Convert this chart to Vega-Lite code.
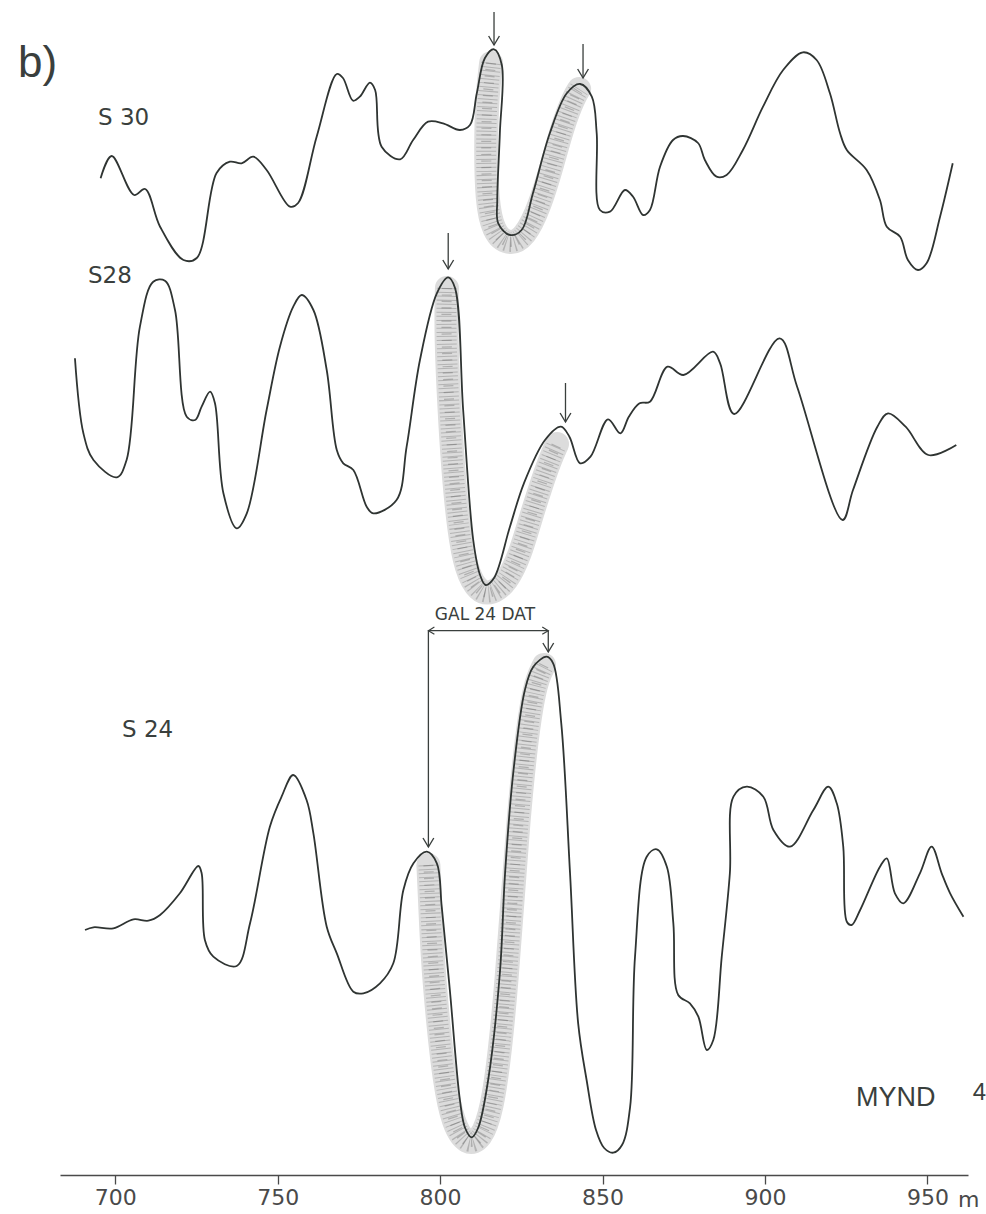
{
  "$schema": "https://vega.github.io/schema/vega-lite/v6.json",
  "width": 908,
  "height": 1175,
  "autosize": {"type": "none"},
  "padding": {"left": 60, "top": 0, "right": 18, "bottom": 39},
  "background": "white",
  "config": {"view": {"stroke": null}},
  "datasets": {
    "traces": [
      {"s":"S 30","i":1,"x":695.5,"y":996.7},{"s":"S 30","i":2,"x":698.9,"y":1019},{"s":"S 30","i":3,"x":705.8,"y":980},{"s":"S 30","i":4,"x":709.2,"y":986},{"s":"S 30","i":5,"x":713.8,"y":948.3},{"s":"S 30","i":6,"x":721.0,"y":915},{"s":"S 30","i":7,"x":725.1,"y":917},{"s":"S 30","i":8,"x":731.2,"y":1002},{"s":"S 30","i":9,"x":735.3,"y":1013.3},{"s":"S 30","i":10,"x":738.9,"y":1011.7},{"s":"S 30","i":11,"x":742.5,"y":1018.3},{"s":"S 30","i":12,"x":746.6,"y":1005},{"s":"S 30","i":13,"x":753.8,"y":968.3},{"s":"S 30","i":14,"x":756.3,"y":972},{"s":"S 30","i":15,"x":762.0,"y":1038.3},{"s":"S 30","i":16,"x":768.2,"y":1101},{"s":"S 30","i":17,"x":770.1,"y":1097},{"s":"S 30","i":18,"x":773.2,"y":1074.3},{"s":"S 30","i":19,"x":775.3,"y":1078.3},{"s":"S 30","i":20,"x":778.4,"y":1092.3},{"s":"S 30","i":21,"x":780.0,"y":1085},{"s":"S 30","i":22,"x":782.0,"y":1028.3},{"s":"S 30","i":23,"x":787.7,"y":1015.7},{"s":"S 30","i":24,"x":791.7,"y":1035},{"s":"S 30","i":25,"x":796.3,"y":1053.3},{"s":"S 30","i":26,"x":800.9,"y":1051.7},{"s":"S 30","i":27,"x":806.1,"y":1045},{"s":"S 30","i":28,"x":809.2,"y":1050},{"s":"S 30","i":29,"x":811.3,"y":1081.7},{"s":"S 30","i":30,"x":813.8,"y":1117},{"s":"S 30","i":31,"x":816.6,"y":1125.7},{"s":"S 30","i":32,"x":819.0,"y":1110},{"s":"S 30","i":33,"x":818.4,"y":1042},{"s":"S 30","i":34,"x":817.6,"y":975},{"s":"S 30","i":35,"x":817.9,"y":951.7},{"s":"S 30","i":36,"x":821.5,"y":940},{"s":"S 30","i":37,"x":825.1,"y":945},{"s":"S 30","i":38,"x":828.6,"y":982},{"s":"S 30","i":39,"x":833.8,"y":1042},{"s":"S 30","i":40,"x":839.0,"y":1081.7},{"s":"S 30","i":41,"x":843.1,"y":1091},{"s":"S 30","i":42,"x":846.7,"y":1078.3},{"s":"S 30","i":43,"x":848.2,"y":1042},{"s":"S 30","i":44,"x":849.2,"y":965},{"s":"S 30","i":45,"x":852.3,"y":963.3},{"s":"S 30","i":46,"x":856.9,"y":985},{"s":"S 30","i":47,"x":859.4,"y":978.3},{"s":"S 30","i":48,"x":862.5,"y":960},{"s":"S 30","i":49,"x":864.6,"y":965},{"s":"S 30","i":50,"x":867.7,"y":1008.3},{"s":"S 30","i":51,"x":871.7,"y":1035},{"s":"S 30","i":52,"x":874.8,"y":1039},{"s":"S 30","i":53,"x":879.4,"y":1032},{"s":"S 30","i":54,"x":881.5,"y":1015},{"s":"S 30","i":55,"x":885.1,"y":998.3},{"s":"S 30","i":56,"x":888.2,"y":1000},{"s":"S 30","i":57,"x":893.2,"y":1025},{"s":"S 30","i":58,"x":899.4,"y":1068.3},{"s":"S 30","i":59,"x":905.6,"y":1105},{"s":"S 30","i":60,"x":911.7,"y":1122.7},{"s":"S 30","i":61,"x":915.9,"y":1115},{"s":"S 30","i":62,"x":920.0,"y":1081.7},{"s":"S 30","i":63,"x":923.1,"y":1042},{"s":"S 30","i":64,"x":925.2,"y":1025},{"s":"S 30","i":65,"x":931.3,"y":1005},{"s":"S 30","i":66,"x":935.4,"y":975},{"s":"S 30","i":67,"x":937.5,"y":948.3},{"s":"S 30","i":68,"x":941.6,"y":938.3},{"s":"S 30","i":69,"x":944.0,"y":915},{"s":"S 30","i":70,"x":947.1,"y":905},{"s":"S 30","i":71,"x":949.8,"y":912},{"s":"S 30","i":72,"x":953.9,"y":958.3},{"s":"S 30","i":73,"x":957.8,"y":1011.7},
      {"s":"S28","i":1,"x":687.6,"y":816.7},{"s":"S28","i":2,"x":690.2,"y":741.7},{"s":"S28","i":3,"x":693.3,"y":715},{"s":"S28","i":4,"x":700.5,"y":697.7},{"s":"S28","i":5,"x":703.5,"y":715},{"s":"S28","i":6,"x":707.6,"y":848.3},{"s":"S28","i":7,"x":711.7,"y":893.3},{"s":"S28","i":8,"x":715.3,"y":894.3},{"s":"S28","i":9,"x":718.4,"y":865},{"s":"S28","i":10,"x":722.0,"y":758.3},{"s":"S28","i":11,"x":724.6,"y":755},{"s":"S28","i":12,"x":726.6,"y":768.3},{"s":"S28","i":13,"x":729.2,"y":783.3},{"s":"S28","i":14,"x":730.7,"y":771.7},{"s":"S28","i":15,"x":733.3,"y":681.7},{"s":"S28","i":16,"x":737.4,"y":646.7},{"s":"S28","i":17,"x":740.5,"y":661.7},{"s":"S28","i":18,"x":746.6,"y":765},{"s":"S28","i":19,"x":750.7,"y":828.3},{"s":"S28","i":20,"x":754.8,"y":868.3},{"s":"S28","i":21,"x":757.4,"y":880},{"s":"S28","i":22,"x":761.0,"y":865},{"s":"S28","i":23,"x":765.1,"y":805},{"s":"S28","i":24,"x":768.2,"y":725},{"s":"S28","i":25,"x":770.2,"y":711.7},{"s":"S28","i":26,"x":773.3,"y":705},{"s":"S28","i":27,"x":777.4,"y":668.3},{"s":"S28","i":28,"x":779.4,"y":661.7},{"s":"S28","i":29,"x":786.6,"y":675},{"s":"S28","i":30,"x":789.7,"y":728.3},{"s":"S28","i":31,"x":793.8,"y":815},{"s":"S28","i":32,"x":799.0,"y":881.7},{"s":"S28","i":33,"x":802.5,"y":897.7},{"s":"S28","i":34,"x":804.6,"y":887},{"s":"S28","i":35,"x":807.1,"y":765},{"s":"S28","i":36,"x":810.2,"y":635},{"s":"S28","i":37,"x":812.3,"y":600},{"s":"S28","i":38,"x":814.0,"y":590},{"s":"S28","i":39,"x":816.6,"y":597},{"s":"S28","i":40,"x":821.5,"y":648.3},{"s":"S28","i":41,"x":825.8,"y":691.7},{"s":"S28","i":42,"x":832.3,"y":735},{"s":"S28","i":43,"x":837.2,"y":748.3},{"s":"S28","i":44,"x":839.8,"y":738.3},{"s":"S28","i":45,"x":843.1,"y":711.7},{"s":"S28","i":46,"x":846.3,"y":718.3},{"s":"S28","i":47,"x":851.7,"y":755.7},{"s":"S28","i":48,"x":855.5,"y":741.7},{"s":"S28","i":49,"x":858.1,"y":758.3},{"s":"S28","i":50,"x":861.4,"y":771.7},{"s":"S28","i":51,"x":864.6,"y":773.3},{"s":"S28","i":52,"x":870.0,"y":808.3},{"s":"S28","i":53,"x":874.9,"y":800},{"s":"S28","i":54,"x":884.0,"y":823.3},{"s":"S28","i":55,"x":886.2,"y":811.7},{"s":"S28","i":56,"x":890.5,"y":761},{"s":"S28","i":57,"x":904.5,"y":836.7},{"s":"S28","i":58,"x":909.9,"y":788.3},{"s":"S28","i":59,"x":923.9,"y":655},{"s":"S28","i":60,"x":927.1,"y":685},{"s":"S28","i":61,"x":934.6,"y":748.3},{"s":"S28","i":62,"x":937.9,"y":761.7},{"s":"S28","i":63,"x":943.3,"y":748.3},{"s":"S28","i":64,"x":950.3,"y":720},{"s":"S28","i":65,"x":958.9,"y":730},
      {"s":"S 24","i":1,"x":690.7,"y":245},{"s":"S 24","i":2,"x":693.3,"y":247.7},{"s":"S 24","i":3,"x":699.4,"y":246.7},{"s":"S 24","i":4,"x":705.6,"y":255.7},{"s":"S 24","i":5,"x":710.2,"y":254.3},{"s":"S 24","i":6,"x":713.8,"y":260},{"s":"S 24","i":7,"x":719.9,"y":281.7},{"s":"S 24","i":8,"x":725.6,"y":309},{"s":"S 24","i":9,"x":726.6,"y":301.7},{"s":"S 24","i":10,"x":727.6,"y":235},{"s":"S 24","i":11,"x":730.2,"y":218.3},{"s":"S 24","i":12,"x":737.4,"y":209},{"s":"S 24","i":13,"x":741.5,"y":251.7},{"s":"S 24","i":14,"x":747.6,"y":348.3},{"s":"S 24","i":15,"x":751.2,"y":378.3},{"s":"S 24","i":16,"x":754.8,"y":400},{"s":"S 24","i":17,"x":758.9,"y":375},{"s":"S 24","i":18,"x":761.0,"y":341.7},{"s":"S 24","i":19,"x":765.1,"y":248.3},{"s":"S 24","i":20,"x":768.2,"y":221.7},{"s":"S 24","i":21,"x":773.3,"y":183.3},{"s":"S 24","i":22,"x":776.4,"y":181.7},{"s":"S 24","i":23,"x":781.5,"y":191.7},{"s":"S 24","i":24,"x":785.6,"y":211.7},{"s":"S 24","i":25,"x":788.7,"y":285},{"s":"S 24","i":26,"x":791.8,"y":311.7},{"s":"S 24","i":27,"x":795.9,"y":323.3},{"s":"S 24","i":28,"x":799.0,"y":311.7},{"s":"S 24","i":29,"x":800.5,"y":268.3},{"s":"S 24","i":30,"x":803.0,"y":185},{"s":"S 24","i":31,"x":806.1,"y":75},{"s":"S 24","i":32,"x":807.7,"y":47},{"s":"S 24","i":33,"x":809.7,"y":37.7},{"s":"S 24","i":34,"x":811.7,"y":47},{"s":"S 24","i":35,"x":814.8,"y":95},{"s":"S 24","i":36,"x":818.4,"y":202},{"s":"S 24","i":37,"x":820.0,"y":301.7},{"s":"S 24","i":38,"x":822.5,"y":401.7},{"s":"S 24","i":39,"x":826.1,"y":485},{"s":"S 24","i":40,"x":828.7,"y":508.3},{"s":"S 24","i":41,"x":832.8,"y":518.3},{"s":"S 24","i":42,"x":834.8,"y":511.7},{"s":"S 24","i":43,"x":837.3,"y":451.7},{"s":"S 24","i":44,"x":840.0,"y":301.7},{"s":"S 24","i":45,"x":842.5,"y":151.7},{"s":"S 24","i":46,"x":845.1,"y":95},{"s":"S 24","i":47,"x":848.0,"y":45},{"s":"S 24","i":48,"x":850.5,"y":27},{"s":"S 24","i":49,"x":853.3,"y":22.3},{"s":"S 24","i":50,"x":856.0,"y":30},{"s":"S 24","i":51,"x":858.5,"y":68.3},{"s":"S 24","i":52,"x":860.0,"y":218.3},{"s":"S 24","i":53,"x":863.6,"y":318.3},{"s":"S 24","i":54,"x":866.7,"y":325.7},{"s":"S 24","i":55,"x":869.8,"y":308.3},{"s":"S 24","i":56,"x":871.8,"y":251.7},{"s":"S 24","i":57,"x":873.3,"y":180},{"s":"S 24","i":58,"x":876.9,"y":171.7},{"s":"S 24","i":59,"x":879.5,"y":158.3},{"s":"S 24","i":60,"x":882.1,"y":125},{"s":"S 24","i":61,"x":884.1,"y":135},{"s":"S 24","i":62,"x":886.7,"y":218.3},{"s":"S 24","i":63,"x":889.2,"y":301.7},{"s":"S 24","i":64,"x":890.3,"y":378.3},{"s":"S 24","i":65,"x":894.4,"y":388.3},{"s":"S 24","i":66,"x":899.5,"y":378.3},{"s":"S 24","i":67,"x":902.6,"y":345},{"s":"S 24","i":68,"x":907.7,"y":328.3},{"s":"S 24","i":69,"x":914.9,"y":365},{"s":"S 24","i":70,"x":919.5,"y":388.3},{"s":"S 24","i":71,"x":922.1,"y":371.7},{"s":"S 24","i":72,"x":924.1,"y":328.3},{"s":"S 24","i":73,"x":925.2,"y":253.3},{"s":"S 24","i":74,"x":926.7,"y":250},{"s":"S 24","i":75,"x":929.3,"y":265},{"s":"S 24","i":76,"x":935.4,"y":308.3},{"s":"S 24","i":77,"x":937.5,"y":316.7},{"s":"S 24","i":78,"x":940.0,"y":281.7},{"s":"S 24","i":79,"x":942.6,"y":271.7},{"s":"S 24","i":80,"x":947.7,"y":301.7},{"s":"S 24","i":81,"x":951.3,"y":328.3},{"s":"S 24","i":82,"x":954.4,"y":301.7},{"s":"S 24","i":83,"x":957.0,"y":281.7},{"s":"S 24","i":84,"x":961.1,"y":258.3}
    ],
    "bands": [
      {"b":"S 30","i":1,"x":815.7,"y":1112},{"b":"S 30","i":2,"x":814.4,"y":1075},{"b":"S 30","i":3,"x":814.1,"y":1025},{"b":"S 30","i":4,"x":814.4,"y":975},{"b":"S 30","i":5,"x":816.3,"y":943},{"b":"S 30","i":6,"x":820.9,"y":930},{"b":"S 30","i":7,"x":826.1,"y":937},{"b":"S 30","i":8,"x":830.8,"y":970},{"b":"S 30","i":9,"x":834.5,"y":1010},{"b":"S 30","i":10,"x":837.8,"y":1050},{"b":"S 30","i":11,"x":841.2,"y":1078},{"b":"S 30","i":12,"x":842.8,"y":1086},
      {"b":"S28","i":1,"x":802.1,"y":887},{"b":"S28","i":2,"x":801.8,"y":845},{"b":"S28","i":3,"x":802.7,"y":775},{"b":"S28","i":4,"x":804.0,"y":705},{"b":"S28","i":5,"x":805.8,"y":645},{"b":"S28","i":6,"x":808.0,"y":605},{"b":"S28","i":7,"x":811.7,"y":583},{"b":"S28","i":8,"x":816.0,"y":581},{"b":"S28","i":9,"x":820.6,"y":593},{"b":"S28","i":10,"x":824.6,"y":620},{"b":"S28","i":11,"x":827.7,"y":655},{"b":"S28","i":12,"x":830.8,"y":687},{"b":"S28","i":13,"x":833.8,"y":715},{"b":"S28","i":14,"x":836.0,"y":731},
      {"b":"S 24","i":1,"x":796.4,"y":310},{"b":"S 24","i":2,"x":796.9,"y":275},{"b":"S 24","i":3,"x":797.7,"y":215},{"b":"S 24","i":4,"x":799.3,"y":155},{"b":"S 24","i":5,"x":801.3,"y":95},{"b":"S 24","i":6,"x":804.0,"y":50},{"b":"S 24","i":7,"x":808.3,"y":30},{"b":"S 24","i":8,"x":812.6,"y":35},{"b":"S 24","i":9,"x":816.0,"y":65},{"b":"S 24","i":10,"x":818.5,"y":125},{"b":"S 24","i":11,"x":820.5,"y":195},{"b":"S 24","i":12,"x":822.3,"y":275},{"b":"S 24","i":13,"x":824.1,"y":355},{"b":"S 24","i":14,"x":826.2,"y":425},{"b":"S 24","i":15,"x":828.2,"y":472},{"b":"S 24","i":16,"x":830.0,"y":497},{"b":"S 24","i":17,"x":832.0,"y":510}
    ],
    "arrows": [
      {"id":"S30a","x":816.6,"top":1163,"tip":1130},
      {"id":"S30b","x":844.0,"top":1131,"tip":1097},
      {"id":"S28a","x":802.5,"top":942,"tip":906},
      {"id":"S28b","x":838.6,"top":792,"tip":753},
      {"id":"GALa","x":796.4,"top":544.3,"tip":328},
      {"id":"GALb","x":833.3,"top":544.3,"tip":523}
    ],
    "span": [{"x1":796.4,"x2":833.3,"y":544.3}],
    "labels": [
      {"kind":"title","text":"b)","x":670.1,"y":1098},
      {"kind":"trace","text":"S 30","x":694.7,"y":1050},
      {"kind":"trace","text":"S28","x":691.6,"y":892},
      {"kind":"trace","text":"S 24","x":702.1,"y":438},
      {"kind":"note","text":"GAL 24 DAT","x":813.8,"y":555},
      {"kind":"fig","text":"MYND","x":928.0,"y":69},
      {"kind":"fignum","text":"4","x":964.0,"y":75},
      {"kind":"unit","text":"m","x":959.4,"y":-32}
    ]
  },
  "encoding": {
    "x": {"field": "x", "type": "quantitative", "scale": {"domain": [683, 962.5], "nice": false, "zero": false},
      "axis": {"title": null, "values": [700, 750, 800, 850, 900, 950], "grid": false, "domain": true, "domainColor": "#4a4a4a", "domainWidth": 1.6, "ticks": true, "tickSize": 9, "tickColor": "#4a4a4a", "tickWidth": 1.3, "labelFont": "DejaVu Sans", "labelFontSize": 22, "labelColor": "#4a4a4a", "labelPadding": 3}},
    "y": {"field": "y", "type": "quantitative", "scale": {"domain": [0, 1175], "nice": false, "zero": false}, "axis": null}
  },
  "layer": [
    {"data": {"name": "bands"}, "mark": {"type": "line", "interpolate": "basis", "color": "#dcdcdc", "strokeWidth": 24, "strokeCap": "round", "strokeJoin": "round"},
      "encoding": {"detail": {"field": "b"}, "order": {"field": "i", "type": "quantitative"}}},
    {"data": {"name": "bands"}, "mark": {"type": "line", "interpolate": "basis", "color": "#555555", "opacity": 0.3, "strokeWidth": 20, "strokeDash": [1, 3], "strokeCap": "butt"},
      "encoding": {"detail": {"field": "b"}, "order": {"field": "i", "type": "quantitative"}}},
    {"data": {"name": "bands"}, "mark": {"type": "line", "interpolate": "basis", "color": "#444444", "opacity": 0.3, "strokeWidth": 10, "strokeDash": [1.2, 5.3], "strokeCap": "butt"},
      "encoding": {"detail": {"field": "b"}, "order": {"field": "i", "type": "quantitative"}}},
    {"data": {"name": "traces"}, "mark": {"type": "line", "interpolate": "catmull-rom", "color": "#2f3432", "strokeWidth": 1.8, "strokeJoin": "round"},
      "encoding": {"detail": {"field": "s"}, "order": {"field": "i", "type": "quantitative"}}},
    {"data": {"name": "arrows"}, "mark": {"type": "rule", "color": "#3a3f3d", "strokeWidth": 1.3},
      "encoding": {"y": {"field": "top", "type": "quantitative"}, "y2": {"field": "tip"}}},
    {"data": {"name": "arrows"}, "mark": {"type": "point", "shape": "M-0.6,-1L0,0L0.6,-1", "filled": false, "size": 324, "color": "#3a3f3d", "strokeWidth": 1.4, "opacity": 1},
      "encoding": {"y": {"field": "tip", "type": "quantitative"}}},
    {"data": {"name": "span"}, "mark": {"type": "rule", "color": "#3a3f3d", "strokeWidth": 1.2},
      "encoding": {"x": {"field": "x1", "type": "quantitative"}, "x2": {"field": "x2"}}},
    {"data": {"name": "span"}, "mark": {"type": "point", "shape": "M1,-0.6L0,0L1,0.6", "filled": false, "size": 144, "color": "#3a3f3d", "strokeWidth": 1.2, "opacity": 1},
      "encoding": {"x": {"field": "x1", "type": "quantitative"}}},
    {"data": {"name": "span"}, "mark": {"type": "point", "shape": "M-1,-0.6L0,0L-1,0.6", "filled": false, "size": 144, "color": "#3a3f3d", "strokeWidth": 1.2, "opacity": 1},
      "encoding": {"x": {"field": "x2", "type": "quantitative"}}},
    {"data": {"name": "labels"}, "transform": [{"filter": "datum.kind == 'title'"}],
      "mark": {"type": "text", "align": "left", "baseline": "alphabetic", "font": "Liberation Sans", "fontSize": 44, "color": "#3a3f3d"},
      "encoding": {"text": {"field": "text"}}},
    {"data": {"name": "labels"}, "transform": [{"filter": "datum.kind == 'trace'"}],
      "mark": {"type": "text", "align": "left", "baseline": "alphabetic", "font": "DejaVu Sans", "fontSize": 23, "color": "#3a3f3d"},
      "encoding": {"text": {"field": "text"}}},
    {"data": {"name": "labels"}, "transform": [{"filter": "datum.kind == 'note'"}],
      "mark": {"type": "text", "align": "center", "baseline": "alphabetic", "font": "DejaVu Sans", "fontSize": 17, "color": "#3a3f3d"},
      "encoding": {"text": {"field": "text"}}},
    {"data": {"name": "labels"}, "transform": [{"filter": "datum.kind == 'fig'"}],
      "mark": {"type": "text", "align": "left", "baseline": "alphabetic", "font": "Liberation Sans", "fontSize": 27, "color": "#3a3f3d"},
      "encoding": {"text": {"field": "text"}}},
    {"data": {"name": "labels"}, "transform": [{"filter": "datum.kind == 'fignum'"}],
      "mark": {"type": "text", "align": "left", "baseline": "alphabetic", "font": "Liberation Sans", "fontSize": 24, "color": "#3a3f3d"},
      "encoding": {"text": {"field": "text"}}},
    {"data": {"name": "labels"}, "transform": [{"filter": "datum.kind == 'unit'"}],
      "mark": {"type": "text", "align": "left", "baseline": "alphabetic", "font": "DejaVu Sans", "fontSize": 22, "color": "#4a4a4a"},
      "encoding": {"text": {"field": "text"}}}
  ]
}
